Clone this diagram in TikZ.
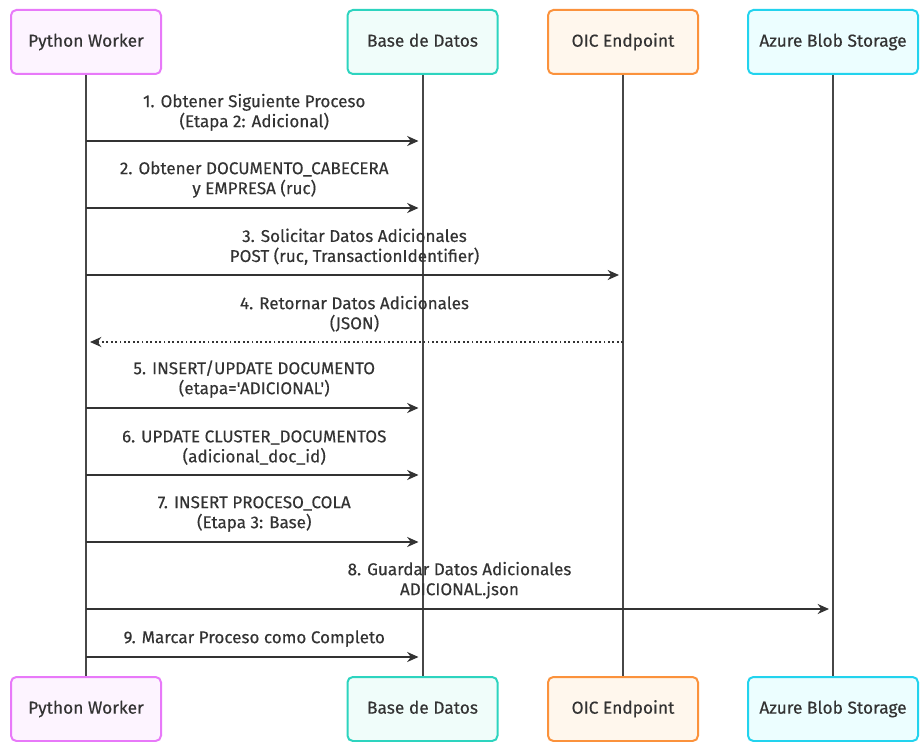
\documentclass[tikz,border=0pt]{standalone}
\usepackage{fontspec}
\setmainfont{Fira Sans}[Ligatures=TeXOff,FakeBold=0.35]
\usetikzlibrary{arrows.meta}
\definecolor{txt}{HTML}{333333}
\definecolor{pwB}{HTML}{E879F9}\definecolor{pwF}{HTML}{FDF4FF}
\definecolor{dbB}{HTML}{2DD4BF}\definecolor{dbF}{HTML}{F0FDFA}
\definecolor{oiB}{HTML}{FB923C}\definecolor{oiF}{HTML}{FFF7ED}
\definecolor{azB}{HTML}{22D3EE}\definecolor{azF}{HTML}{ECFEFF}
\begin{document}
\begin{tikzpicture}[x=0.75pt,y=-0.75pt,
  actor/.style={draw=#1B,fill=#1F,line width=1.5pt,rounded corners=4pt,minimum height=48pt,minimum width=112.5pt,text=txt,text height=9.5pt,text depth=2.5pt,font=\fontsize{13}{15}\selectfont},
  life/.style={draw=txt!90,line width=1.5pt},
  msg/.style={draw=txt,line width=1.3pt,-{Stealth[length=8.5pt,width=7.5pt]},shorten >=3pt},
  ret/.style={msg,dotted,line width=1.5pt},
  lbl/.style={text=txt,align=center,anchor=south,inner sep=1pt,font=\fontsize{12.8}{15}\selectfont}]
\useasboundingbox (0,0) rectangle (921,742);
% actors
\node[actor=pw] (pwT) at (86,42) {Python Worker};
\node[actor=db] (dbT) at (422.5,42) {Base de Datos};
\node[actor=oi] (oiT) at (623,42) {OIC Endpoint};
\node[actor=az,minimum width=127.5pt] (azT) at (833,42) {Azure Blob Storage};
\node[actor=pw] (pwB) at (86,709) {Python Worker};
\node[actor=db] (dbB) at (422.5,709) {Base de Datos};
\node[actor=oi] (oiB) at (623,709) {OIC Endpoint};
\node[actor=az,minimum width=127.5pt] (azB) at (833,709) {Azure Blob Storage};
% lifelines
\draw[life] (pwT) -- (pwB);
\draw[life] (dbT) -- (dbB);
\draw[life] (oiT) -- (oiB);
\draw[life] (azT) -- (azB);
% message endpoints
\foreach \n/\y in {1/141,2/208,3/275,4/342,5/408,6/475,7/542,8/609,9/657}{
  \coordinate (p\n) at (86,\y);
  \coordinate (d\n) at (422.5,\y);
  \coordinate (o\n) at (623,\y);
  \coordinate (a\n) at (833,\y);
}
\draw[msg] (p1) -- (d1) node[lbl,midway,above=6pt] (l1) {1. Obtener Siguiente Proceso\\(Etapa 2: Adicional)};
\draw[msg] (p2) -- (d2) node[lbl,midway,above=6pt] (l2) {2. Obtener DOCUMENTO\_CABECERA\\y EMPRESA (ruc)};
\draw[msg] (p3) -- (o3) node[lbl,midway,above=6pt] (l3) {3. Solicitar Datos Adicionales\\POST (ruc, TransactionIdentifier)};
\draw[ret] (o4) -- (p4) node[lbl,midway,above=6pt] (l4) {4. Retornar Datos Adicionales\\(JSON)};
\draw[msg] (p5) -- (d5) node[lbl,midway,above=6pt] (l5) {5. INSERT/UPDATE DOCUMENTO\\(etapa='ADICIONAL')};
\draw[msg] (p6) -- (d6) node[lbl,midway,above=6pt] (l6) {6. UPDATE CLUSTER\_DOCUMENTOS\\(adicional\_doc\_id)};
\draw[msg] (p7) -- (d7) node[lbl,midway,above=6pt] (l7) {7. INSERT PROCESO\_COLA\\(Etapa 3: Base)};
\draw[msg] (p8) -- (a8) node[lbl,midway,above=6pt] (l8) {8. Guardar Datos Adicionales\\ADICIONAL.json};
\draw[msg] (p9) -- (d9) node[lbl,midway,above=6pt] (l9) {9. Marcar Proceso como Completo};
\end{tikzpicture}
\end{document}
